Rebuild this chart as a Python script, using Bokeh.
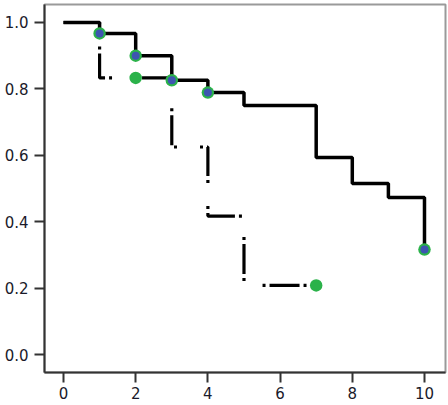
from bokeh.plotting import figure
from bokeh.models import Range1d, FixedTicker, NumeralTickFormatter
from bokeh.embed import file_html
from bokeh.resources import INLINE

# Group 1 (solid line)
time_a = [0, 1, 2, 3, 4, 5, 7, 8, 9, 10]
surv_a = [1.0, 0.967, 0.9, 0.826, 0.789, 0.75, 0.593, 0.515, 0.473, 0.316]
cens_a_t = [1, 2, 3, 4, 10]
cens_a_s = [0.967, 0.9, 0.826, 0.789, 0.316]

# Group 2 (dash-dot line)
time_b = [0, 1, 3, 4, 5, 7]
surv_b = [1.0, 0.833, 0.625, 0.417, 0.208, 0.208]
cens_b_t = [2, 7]
cens_b_s = [0.833, 0.208]

x_ticks = [0, 2, 4, 6, 8, 10]
y_ticks = [0.0, 0.2, 0.4, 0.6, 0.8, 1.0]

GREEN = "#2bb24a"
BLUE = "#3d55b0"

p = figure(width=448, height=405, output_backend="svg", toolbar_location=None,
           x_range=Range1d(-0.526, 10.582), y_range=Range1d(-0.0542, 1.0542),
           min_border_left=44, min_border_right=3, min_border_top=4, min_border_bottom=33)
p.background_fill_color = "white"
p.border_fill_color = "white"
p.outline_line_color = "#9a9a9a"
p.outline_line_width = 2
p.xgrid.visible = False
p.ygrid.visible = False

for ax in (p.xaxis[0], p.yaxis[0]):
    ax.axis_line_color = "#333333"
    ax.axis_line_width = 2
    ax.major_tick_line_color = "#333333"
    ax.major_tick_line_width = 2
    ax.major_tick_out = 10
    ax.major_tick_in = 0
    ax.minor_tick_line_color = None
    ax.major_label_text_font = "DejaVu Sans"
    ax.major_label_text_font_size = "15px"
    ax.major_label_text_color = "#1a1a2a"
p.xaxis.major_label_standoff = 4
p.yaxis.major_label_standoff = 6

p.xaxis.ticker = FixedTicker(ticks=x_ticks)
p.yaxis.ticker = FixedTicker(ticks=y_ticks)
p.yaxis.formatter = NumeralTickFormatter(format="0.0")

p.step(time_b, surv_b, mode="after", line_color="black", line_width=3.2,
       line_dash="3 4 30 4 3 23", line_dash_offset=7)
p.step(time_a, surv_a, mode="after", line_color="black", line_width=3.5)

p.scatter(cens_b_t, cens_b_s, size=12.5, fill_color=GREEN, line_color=GREEN, line_width=0)
p.scatter(cens_a_t, cens_a_s, size=12.5, fill_color=GREEN, line_color=GREEN, line_width=0)
p.scatter(cens_a_t, cens_a_s, size=8, fill_color=BLUE, line_color=BLUE, line_width=0)

open("out.html", "w").write(file_html(p, INLINE))
